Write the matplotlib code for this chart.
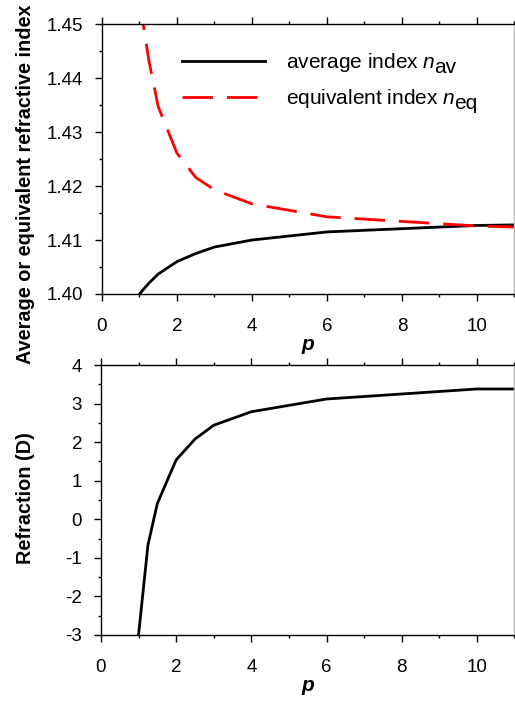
import matplotlib
matplotlib.use("Agg")
import matplotlib.pyplot as plt
from matplotlib.ticker import MultipleLocator, FormatStrFormatter

plt.rcParams['font.family'] = ['Liberation Sans', 'DejaVu Sans']
plt.rcParams['mathtext.fontset'] = 'custom'
plt.rcParams['mathtext.rm'] = 'Liberation Sans'
plt.rcParams['mathtext.it'] = 'Liberation Sans:italic'
plt.rcParams['axes.unicode_minus'] = False

p = [1, 1.25, 1.5, 2, 2.5, 3, 4, 6, 10, 11]
n_av = [1.4000, 1.4020, 1.4037, 1.4060, 1.4075, 1.4087, 1.4100, 1.4115, 1.4127, 1.4128]
n_eq = [1.4545, 1.4433, 1.4347, 1.4261, 1.4216, 1.4193, 1.4167, 1.4143, 1.4126, 1.4124]
refraction = [-3.0, -0.67, 0.41, 1.54, 2.08, 2.44, 2.79, 3.12, 3.38, 3.38]

labels = ['average index $n$', 'equivalent index $n$']
subscripts = ['av', 'eq']

fig = plt.figure(figsize=(5.15, 7.01), dpi=100)
ax1 = fig.add_axes([0.198, 0.5806, 0.801, 0.385])
ax2 = fig.add_axes([0.196, 0.0942, 0.803, 0.385])

ax1.plot(p, n_av, color='black', lw=2.0, label=labels[0])
ax1.plot(p, n_eq, color='red', lw=2.0, dashes=(11, 5), label=labels[1])
ax1.set_ylim(1.40, 1.45)
ax1.yaxis.set_major_locator(MultipleLocator(0.01))
ax1.yaxis.set_minor_locator(MultipleLocator(0.005))
ax1.yaxis.set_major_formatter(FormatStrFormatter('%.2f'))
leg = ax1.legend(loc='upper left', bbox_to_anchor=(0.194, 0.90), frameon=False, fontsize=15,
                 handlelength=4.0, handletextpad=1.0, labelspacing=0.62,
                 borderpad=0, borderaxespad=0)
leg.set_zorder(5)
for t, sub in zip(leg.get_texts(), subscripts):
    ax1.annotate(sub, xy=(1, 0), xycoords=t, xytext=(-1.0, 0.5), textcoords='offset points',
                 ha='left', va='baseline', fontsize=15, zorder=10)

ax2.plot(p, refraction, color='black', lw=2.0)
ax2.set_ylim(-3, 4)
ax2.yaxis.set_major_locator(MultipleLocator(1))
ax2.yaxis.set_minor_locator(MultipleLocator(0.5))

for ax in (ax1, ax2):
    ax.set_xlim(0, 11)
    ax.xaxis.set_major_locator(MultipleLocator(2))
    ax.xaxis.set_minor_locator(MultipleLocator(1))
    for s in ('left', 'top', 'bottom', 'right'):
        ax.spines[s].set_linewidth(1.0)
    ax.spines['right'].set_color('#bbbbbb')
    ax.tick_params(which='both', direction='out', top=True, right=False, labelsize=13.5, width=1.0)
    ax.tick_params(which='major', length=5)
    ax.tick_params(axis='y', which='major', pad=8.5)
    ax.tick_params(axis='x', which='major', pad=12)
    ax.tick_params(which='minor', length=2.5)
    ax.set_xlabel('p', fontsize=15, fontweight='bold', fontstyle='italic', labelpad=0)

fig.text(0.05, 0.737, 'Average or equivalent refractive index', rotation=90,
         ha='center', va='center', fontsize=14.3, fontweight='bold')
fig.text(0.05, 0.29, 'Refraction (D)', rotation=90,
         ha='center', va='center', fontsize=14.3, fontweight='bold')

fig.savefig('out.png', dpi=100)
